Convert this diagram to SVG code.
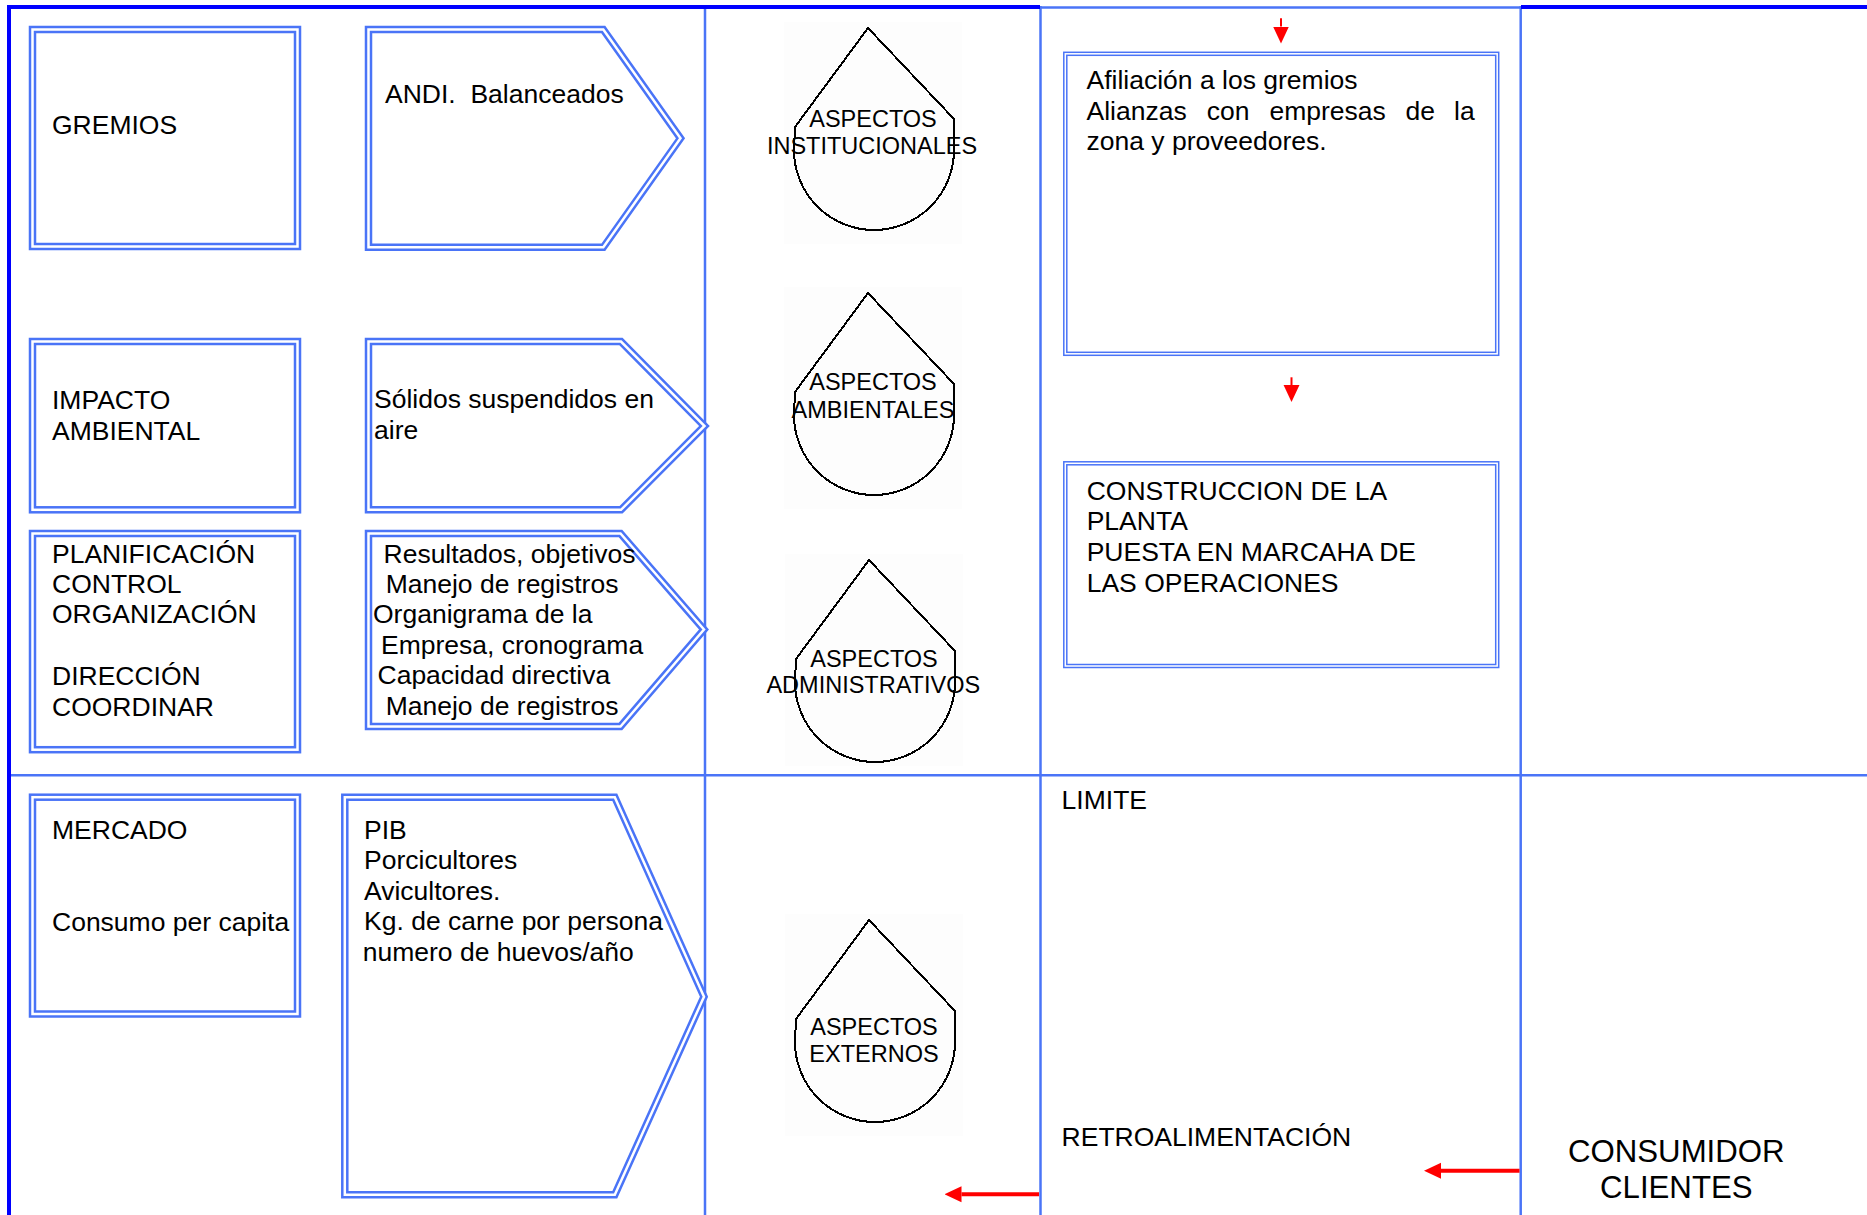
<svg xmlns="http://www.w3.org/2000/svg" width="1867" height="1215" viewBox="0 0 1867 1215">
  <style>
    text { font-family: "Liberation Sans", Arial, sans-serif; fill: #000; }
    .t { font-size: 26.5px; white-space: pre; }
    .drop-t { font-size: 23.5px; text-anchor: middle; }
    .big { font-size: 31.2px; text-anchor: middle; }
    .grid { stroke: #4a74f7; stroke-width: 2.5; fill: none; }
    .frame { stroke: #0000ff; stroke-width: 4; fill: none; }
    .dbl-o { stroke: #4a74f7; stroke-width: 7.5; fill: #fff; stroke-linejoin: miter; }
    .dbl-i { stroke: #fff; stroke-width: 2.5; fill: none; stroke-linejoin: miter; }
    .thin-o { stroke: #4a74f7; stroke-width: 4.5; fill: #fff; }
    .thin-i { stroke: #fff; stroke-width: 1.5; fill: none; }
    .drop { fill: none; stroke: #000; stroke-width: 2; shape-rendering: crispEdges; }
    .drop-bg { fill: #fdfdfd; }
    .arrow { stroke: #f00; fill: none; }
  </style>
  <defs>
    <marker id="head" markerUnits="userSpaceOnUse" markerWidth="17" markerHeight="17" viewBox="0 -8 16 16" refX="0" refY="0" orient="auto">
      <path d="M0,-7.5 L16,0 L0,7.5 Z" fill="#f00"/>
    </marker>
    <path id="drop-shape" d="M868,28 L954,119 L954,150 A80,80 0 0 1 794,150 L795,127 Z"/>
  </defs>

  <rect width="1867" height="1215" fill="#fff"/>

  <!-- third column: drops (drawn first so the grid stays on top) -->
  <g id="aspectos-institucionales">
    <rect class="drop-bg" x="784" y="22" width="178" height="222"/>
    <use href="#drop-shape" class="drop"/>
    <text class="drop-t" x="873" y="126.7">ASPECTOS</text>
    <text class="drop-t" x="872" y="154">INSTITUCIONALES</text>
  </g>
  <g id="aspectos-ambientales">
    <g transform="translate(0,265)">
      <rect class="drop-bg" x="784" y="22" width="178" height="222"/>
      <use href="#drop-shape" class="drop"/>
    </g>
    <text class="drop-t" x="873" y="390">ASPECTOS</text>
    <text class="drop-t" x="873" y="417.7">AMBIENTALES</text>
  </g>
  <g id="aspectos-administrativos">
    <g transform="translate(1,532)">
      <rect class="drop-bg" x="784" y="22" width="178" height="212"/>
      <use href="#drop-shape" class="drop"/>
    </g>
    <text class="drop-t" x="874" y="666.7">ASPECTOS</text>
    <text class="drop-t" x="873.3" y="693.3">ADMINISTRATIVOS</text>
  </g>
  <g id="aspectos-externos">
    <g transform="translate(1,892)">
      <rect class="drop-bg" x="784" y="22" width="178" height="222"/>
      <use href="#drop-shape" class="drop"/>
    </g>
    <text class="drop-t" x="874" y="1035">ASPECTOS</text>
    <text class="drop-t" x="874" y="1061.7">EXTERNOS</text>
  </g>

  <!-- table grid -->
  <g id="grid">
    <line class="grid" x1="705" y1="9" x2="705" y2="1215"/>
    <line class="grid" x1="1040.5" y1="6" x2="1040.5" y2="1215"/>
    <line class="grid" x1="1520.7" y1="6" x2="1520.7" y2="1215"/>
    <line class="grid" x1="9" y1="775.3" x2="1867" y2="775.3"/>
    <line class="grid" x1="1040" y1="7.5" x2="1521" y2="7.5" stroke-width="3"/>
    <line class="frame" x1="7" y1="7" x2="1040" y2="7"/>
    <line class="frame" x1="1521" y1="7" x2="1867" y2="7"/>
    <line class="frame" x1="9" y1="5" x2="9" y2="1215"/>
  </g>

  <!-- left column: topics -->
  <g id="gremios">
    <rect class="dbl-o" x="32.5" y="29.5" width="265" height="217"/>
    <rect class="dbl-i" x="32.5" y="29.5" width="265" height="217"/>
    <text class="t" x="52" y="134">GREMIOS</text>
  </g>
  <g id="impacto">
    <rect class="dbl-o" x="32.5" y="341.5" width="265" height="168.3"/>
    <rect class="dbl-i" x="32.5" y="341.5" width="265" height="168.3"/>
    <text class="t" x="52" y="409">IMPACTO</text>
    <text class="t" x="52" y="440">AMBIENTAL</text>
  </g>
  <g id="planificacion">
    <rect class="dbl-o" x="32.5" y="533.5" width="265" height="216.2"/>
    <rect class="dbl-i" x="32.5" y="533.5" width="265" height="216.2"/>
    <text class="t" x="52" y="563">PLANIFICACIÓN</text>
    <text class="t" x="52" y="593">CONTROL</text>
    <text class="t" x="52" y="623">ORGANIZACIÓN</text>
    <text class="t" x="52" y="685">DIRECCIÓN</text>
    <text class="t" x="52" y="716">COORDINAR</text>
  </g>
  <g id="mercado">
    <rect class="dbl-o" x="32.5" y="797.2" width="265" height="216.8"/>
    <rect class="dbl-i" x="32.5" y="797.2" width="265" height="216.8"/>
    <text class="t" x="52" y="838.5">MERCADO</text>
    <text class="t" x="52" y="931">Consumo per capita</text>
  </g>

  <!-- second column: pentagon arrows -->
  <g id="andi">
    <polygon class="dbl-o" points="368.5,29.5 603.3,29.5 680.5,138.3 603.3,247.3 368.5,247.3"/>
    <polygon class="dbl-i" points="368.5,29.5 603.3,29.5 680.5,138.3 603.3,247.3 368.5,247.3"/>
    <text class="t" x="385" y="103">ANDI.  Balanceados</text>
  </g>
  <g id="solidos">
    <polygon class="dbl-o" points="368.5,341.5 621,341.5 704.5,426 621,509.8 368.5,509.8"/>
    <polygon class="dbl-i" points="368.5,341.5 621,341.5 704.5,426 621,509.8 368.5,509.8"/>
    <text class="t" x="374" y="408">Sólidos suspendidos en</text>
    <text class="t" x="374" y="439">aire</text>
  </g>
  <g id="resultados">
    <polygon class="dbl-o" points="368.5,533.5 620.5,533.5 704,629.5 620.5,726.5 368.5,726.5"/>
    <polygon class="dbl-i" points="368.5,533.5 620.5,533.5 704,629.5 620.5,726.5 368.5,726.5"/>
    <text class="t" x="383.5" y="563">Resultados, objetivos</text>
    <text class="t" x="385.7" y="593">Manejo de registros</text>
    <text class="t" x="373" y="623">Organigrama de la</text>
    <text class="t" x="381" y="653.5">Empresa, cronograma</text>
    <text class="t" x="377.5" y="684">Capacidad directiva</text>
    <text class="t" x="385.7" y="714.5">Manejo de registros</text>
  </g>
  <g id="pib">
    <polygon class="dbl-o" points="344.8,797.2 614.8,797.2 704,996.7 614.8,1194.8 344.8,1194.8"/>
    <polygon class="dbl-i" points="344.8,797.2 614.8,797.2 704,996.7 614.8,1194.8 344.8,1194.8"/>
    <text class="t" x="364" y="838.5">PIB</text>
    <text class="t" x="364" y="869">Porcicultores</text>
    <text class="t" x="364" y="899.5">Avicultores.</text>
    <text class="t" x="364" y="930">Kg. de carne por persona</text>
    <text class="t" x="362.7" y="961">numero de huevos/año</text>
  </g>

  <!-- fourth column -->
  <g id="afiliacion">
    <rect class="thin-o" x="1065.3" y="53.8" width="431.9" height="300"/>
    <rect class="thin-i" x="1065.3" y="53.8" width="431.9" height="300"/>
    <text class="t" x="1086.5" y="89.3">Afiliación a los gremios</text>
    <text class="t" y="120"><tspan x="1086.5">Alianzas</tspan><tspan x="1206.7">con</tspan><tspan x="1269.4">empresas</tspan><tspan x="1405.5">de</tspan><tspan x="1454">la</tspan></text>
    <text class="t" x="1086.5" y="150">zona y proveedores.</text>
  </g>
  <g id="construccion">
    <rect class="thin-o" x="1065.3" y="463.3" width="431.9" height="202.7"/>
    <rect class="thin-i" x="1065.3" y="463.3" width="431.9" height="202.7"/>
    <text class="t" x="1086.7" y="500">CONSTRUCCION DE LA</text>
    <text class="t" x="1086.7" y="530">PLANTA</text>
    <text class="t" x="1086.7" y="560.7">PUESTA EN MARCAHA DE</text>
    <text class="t" x="1086.7" y="591.7">LAS OPERACIONES</text>
  </g>
  <g id="limite">
    <text class="t" x="1061.6" y="809.3">LIMITE</text>
  </g>
  <g id="retroalimentacion">
    <text class="t" x="1061.6" y="1146">RETROALIMENTACIÓN</text>
  </g>
  <g id="consumidor">
    <text class="big" x="1676.3" y="1161.7">CONSUMIDOR</text>
    <text class="big" x="1676.3" y="1198.3">CLIENTES</text>
  </g>

  <!-- connectors -->
  <g id="connectors">
    <path class="arrow" stroke-width="2" d="M1281,18.3 V26.5" marker-end="url(#head)"/>
    <path class="arrow" stroke-width="2" d="M1291.5,377.3 V385" marker-end="url(#head)"/>
    <path class="arrow" stroke-width="4" d="M1039,1194.3 H961.5" marker-end="url(#head)"/>
    <path class="arrow" stroke-width="4" d="M1519.5,1170.7 H1441" marker-end="url(#head)"/>
  </g>
</svg>
